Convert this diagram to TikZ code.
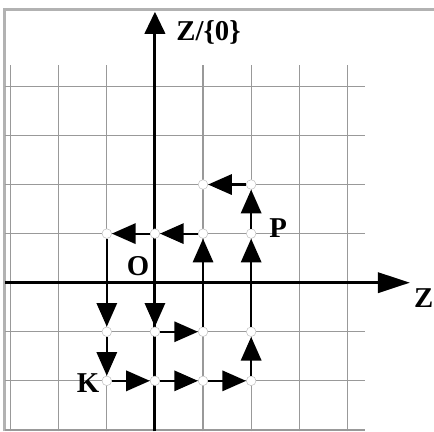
\documentclass[tikz,border=0pt]{standalone}
\usepackage{fontspec}
\setmainfont{Liberation Serif}
\usetikzlibrary{arrows.meta}
\tikzset{
    dot/.style={circle, inner sep=0pt, minimum size=0.2cm, fill=white,
        draw=gray!50, line width=0.3pt},
    gridline/.style={gray!80, line width=0.7pt},
    frameline/.style={gray!60, line width=1.6pt},
    axisx/.style={line width=1.7pt, -{Triangle[length=19pt,width=12pt]}},
    axisy/.style={line width=1.7pt, -{Triangle[length=13pt,width=12pt]}},
    arrow/.style={line width=1.3pt, -{Triangle[length=14pt,width=12pt]}},
    lbl/.style={font=\fontsize{17}{20}\selectfont\bfseries, inner sep=0pt}
}
\begin{document}
\begin{tikzpicture}[y=1.02cm]
\useasboundingbox (-3.22,-3.03) rectangle (5.80,5.76);
% frame and grid
\draw[frameline] (-3.12,-3.03) -- (-3.12,5.56) -- (5.80,5.56);
\foreach \y in {-3,...,4} \draw[gridline] (-3.12,\y) -- (4.37,\y);
\foreach \x in {-3,...,4} \draw[gridline] (\x,-3.03) -- (\x,4.44);
% axes
\coordinate (xs) at (-3.12,0);
\coordinate (xe) at (5.30,0);
\coordinate (ys) at (0,-3.03);
\coordinate (ye) at (0,5.52);
\draw[axisx] (xs) -- (xe);
\draw[axisy] (ys) -- (ye);
\node[lbl, anchor=east] (zlab) at (5.79,-0.31) {Z};
\node[lbl, anchor=west] (zqlab) at (0.44,5.09) {Z/\{0\}};
% points
\node[dot] (k)  at (-1,-2) {};
\node[dot] (kb) at (0,-2)  {};
\node[dot] (kc) at (1,-2)  {};
\node[dot] (kd) at (2,-2)  {};
\node[dot] (ke) at (2,-1)  {};
\node[dot] (p)  at (2,1)   {};
\node[dot] (pt) at (2,2)   {};
\node[dot] (pl) at (1,2)   {};
\node[dot] (s1) at (1,1)   {};
\node[dot] (o1) at (0,1)   {};
\node[dot] (l1) at (-1,1)  {};
\node[dot] (l0) at (-1,-1) {};
\node[dot] (o0) at (0,-1)  {};
\node[dot] (s0) at (1,-1)  {};
\node[lbl] (klab) at (-1.39,-2.04) {K};
\node[lbl] (plab) at (2.56,1.12)   {P};
\node[lbl] (olab) at (-0.35,0.33)  {O};
% steps
\draw[arrow] (k) -- (kb);
\draw[arrow] (kb) -- (kc);
\draw[arrow] (kc) -- (kd);
\draw[arrow] (kd) -- (ke);
\draw[arrow] (ke) -- (p);
\draw[arrow] (p) -- (pt);
\draw[arrow] (pt) -- (pl);
\draw[arrow] (s0) -- (s1);
\draw[arrow] (s1) -- (o1);
\draw[arrow] (o1) -- (l1);
\draw[arrow] (l1) -- (l0);
\draw[arrow] (l0) -- (k);
\draw[arrow] (o1) -- (o0);
\draw[arrow] (o0) -- (s0);
\end{tikzpicture}
\end{document}
